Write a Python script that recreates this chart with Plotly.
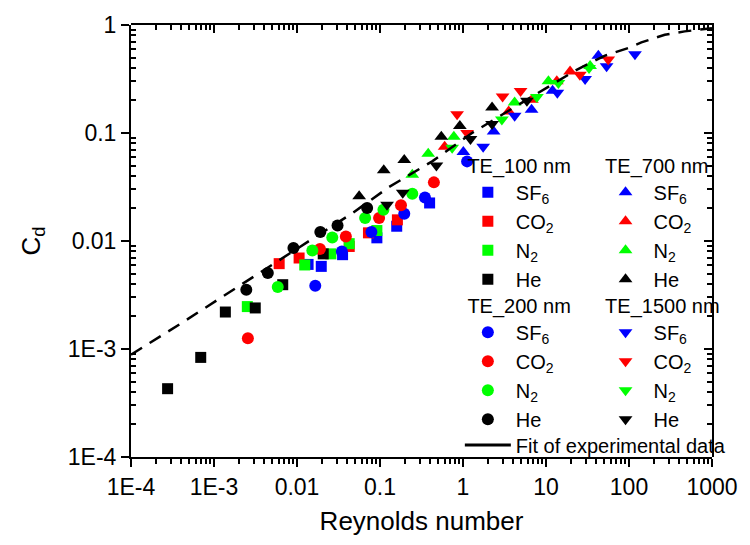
import plotly.graph_objects as go

# ---------------- data ----------------
x_tickvals = [1e-4, 1e-3, 1e-2, 1e-1, 1, 10, 100, 1000]
x_ticktext = ["1E-4", "1E-3", "0.01", "0.1", "1", "10", "100", "1000"]
y_tickvals = [1e-4, 1e-3, 1e-2, 1e-1, 1]
y_ticktext = ["1E-4", "1E-3", "0.01", "0.1", "1"]

# TE_100 nm (squares)
re_100_sf6 = [0.0136, 0.0196, 0.0354, 0.0917, 0.159, 0.396]
cd_100_sf6 = [6.07e-3, 5.82e-3, 7.47e-3, 0.0107, 0.0137, 0.0225]
re_100_co2 = [0.0061, 0.0106, 0.0426, 0.0726, 0.162]
cd_100_co2 = [6.17e-3, 6.96e-3, 8.9e-3, 0.0119, 0.0157]
re_100_n2 = [0.00252, 0.0124, 0.0256, 0.0426, 0.0917]
cd_100_n2 = [0.00247, 0.0060, 0.0076, 0.00945, 0.0125]
re_100_he = [2.76e-4, 6.92e-4, 1.37e-3, 3.14e-3, 6.73e-3, 0.0207]
cd_100_he = [4.29e-4, 8.36e-4, 2.2e-3, 2.4e-3, 3.94e-3, 7.6e-3]

# TE_200 nm (circles)
re_200_sf6 = [0.0166, 0.0347, 0.0788, 0.196, 0.348, 1.12]
cd_200_sf6 = [3.86e-3, 8.0e-3, 0.0121, 0.0179, 0.0253, 0.0546]
re_200_co2 = [0.00256, 0.0189, 0.0388, 0.0975, 0.179, 0.446]
cd_200_co2 = [1.26e-3, 8.43e-3, 0.0110, 0.0163, 0.0214, 0.0349]
re_200_n2 = [0.00586, 0.0153, 0.0266, 0.0662, 0.110, 0.245]
cd_200_n2 = [3.75e-3, 8.18e-3, 0.0108, 0.0163, 0.0195, 0.0274]
re_200_he = [2.45e-3, 4.45e-3, 9.06e-3, 0.0191, 0.0308, 0.070]
cd_200_he = [3.54e-3, 5.06e-3, 8.61e-3, 0.0121, 0.0139, 0.0202]

# TE_700 nm (triangles up)
re_700_sf6 = [1.01, 2.34, 6.70, 12.0, 42.7]
cd_700_sf6 = [0.0667, 0.1035, 0.164, 0.246, 0.520]
re_700_co2 = [0.601, 3.55, 6.76, 13.5, 19.5]
cd_700_co2 = [0.0747, 0.158, 0.203, 0.301, 0.372]
re_700_n2 = [0.245, 0.381, 0.776, 4.19, 10.7, 34.0]
cd_700_n2 = [0.0411, 0.0643, 0.0924, 0.192, 0.301, 0.417]
re_700_he = [0.0561, 0.111, 0.196, 0.548, 0.916, 2.24]
cd_700_he = [0.0259, 0.0453, 0.0562, 0.0924, 0.116, 0.172]

# TE_1500 nm (triangles down)
re_1500_sf6 = [1.75, 4.19, 13.7, 29.6, 53.7, 118]
cd_1500_sf6 = [0.0747, 0.1446, 0.236, 0.316, 0.414, 0.537]
re_1500_co2 = [0.849, 1.12, 3.0, 4.94, 25.6, 56.2]
cd_1500_co2 = [0.149, 0.100, 0.218, 0.245, 0.347, 0.480]
re_1500_n2 = [0.74, 2.94, 7.76, 14.1, 33.0]
cd_1500_n2 = [0.0731, 0.133, 0.216, 0.290, 0.400]
re_1500_he = [0.1216, 0.188, 0.478, 1.23, 2.24, 5.89]
cd_1500_he = [0.0217, 0.028, 0.050, 0.088, 0.121, 0.199]

re_fit = [1e-4, 4.07e-4, 0.0467, 0.1285, 0.4256, 1.285, 4.68, 23.4, 51.4, 97.7, 141, 270, 469, 1000]
cd_fit = [8.86e-4, 1.74e-3, 0.01816, 0.0316, 0.0546, 0.1, 0.183, 0.385, 0.52, 0.612, 0.69, 0.813, 0.873, 0.933]

gases = ["SF<sub>6</sub>", "CO<sub>2</sub>", "N<sub>2</sub>", "He"]
colors = ["#0000FF", "#FF0000", "#00FF00", "#000000"]

groups = [
    ("legend", "square", 11, [(re_100_sf6, cd_100_sf6), (re_100_co2, cd_100_co2), (re_100_n2, cd_100_n2), (re_100_he, cd_100_he)]),
    ("legend3", "circle", 12, [(re_200_sf6, cd_200_sf6), (re_200_co2, cd_200_co2), (re_200_n2, cd_200_n2), (re_200_he, cd_200_he)]),
    ("legend2", "triangle-up", 12, [(re_700_sf6, cd_700_sf6), (re_700_co2, cd_700_co2), (re_700_n2, cd_700_n2), (re_700_he, cd_700_he)]),
    ("legend4", "triangle-down", 12, [(re_1500_sf6, cd_1500_sf6), (re_1500_co2, cd_1500_co2), (re_1500_n2, cd_1500_n2), (re_1500_he, cd_1500_he)]),
]

FONT = "Arial, Liberation Sans, sans-serif"
fig = go.Figure()
for leg, sym, size, series in groups:
    for i, (xs, ys) in enumerate(series):
        fig.add_trace(go.Scatter(
            x=xs, y=ys, mode="markers", name=gases[i],
            marker=dict(symbol=sym, size=size, color=colors[i], line=dict(width=0)),
            legend=leg, legendgroup=leg + str(i),
        ))

# dashed fit curve, drawn on the frame axes (same ranges, same area) so it sits on top
fig.add_trace(go.Scatter(x=re_fit, y=cd_fit, mode="lines", showlegend=False,
                         xaxis="x2", yaxis="y2",
                         line=dict(color="black", width=2.5, dash="13px,9px")))
# legend entry for the fit (solid line as in the original)
fig.add_trace(go.Scatter(x=[None], y=[None], mode="lines", name="Fit of experimental data",
                         line=dict(color="black", width=3), legend="legend5", legendgroup="fit"))

leg_font = dict(family=FONT, size=20, color="black")
def mk_leg(title, x, y, yanchor="top"):
    d = dict(font=leg_font, x=x, y=y,
             xanchor="left", yanchor=yanchor, bgcolor="rgba(0,0,0,0)", borderwidth=0,
             itemwidth=46, tracegroupgap=3, traceorder="normal", itemclick=False)
    if title:
        d["title"] = dict(text=title, font=leg_font)
    return d

fig.update_layout(
    width=750, height=545,
    margin=dict(l=131, r=36, t=25, b=88),
    paper_bgcolor="white", plot_bgcolor="rgba(0,0,0,0)",
    font=dict(family=FONT, color="black"),
    legend=mk_leg("&nbsp;TE_100 nm", 0.566, 0.718),
    legend2=mk_leg("&nbsp;TE_700 nm", 0.803, 0.718),
    legend3=mk_leg("&nbsp;TE_200 nm", 0.566, 0.394),
    legend4=mk_leg("&nbsp;TE_1500 nm", 0.803, 0.394),
    legend5=mk_leg(None, 0.566, 0.028, yanchor="middle"),
)

x_minor = [k * 10.0 ** e for e in range(-4, 3) for k in range(2, 10)]
y_minor = [k * 10.0 ** e for e in range(-4, 0) for k in range(2, 10)]

def axis(rng, vals, text, mvals, side, anchor, ticks, minor_ticks, labels):
    d = dict(type="log", range=rng, side=side, anchor=anchor, domain=[0, 1],
             tickmode="array", tickvals=vals, ticktext=text,
             showline=True, linecolor="black", linewidth=2,
             gridcolor="rgba(0,0,0,0)",
             ticks=ticks, ticklen=8, tickwidth=2, tickcolor="black",
             minor=dict(tickmode="array", tickvals=mvals, ticks=minor_ticks,
                        ticklen=5, tickwidth=1.5, tickcolor="black"),
             showticklabels=labels)
    if labels:
        d["tickfont"] = dict(family=FONT, size=23, color="black")
    return d

fig.update_layout(
    xaxis=dict(**axis([-4, 3], x_tickvals, x_ticktext, x_minor, "bottom", "y", "outside", "outside", True),
               title=dict(text="Reynolds number", font=dict(family=FONT, size=26), standoff=13)),
    yaxis=dict(**axis([-4, 0], y_tickvals, y_ticktext, y_minor, "left", "x", "outside", "inside", True),
               title=dict(text="C<sub>d</sub>", font=dict(family=FONT, size=26), standoff=20)),
    xaxis2=axis([-4, 3], x_tickvals, x_ticktext, x_minor, "top", "y2", "inside", "inside", False),
    yaxis2=axis([-4, 0], y_tickvals, y_ticktext, y_minor, "right", "x2", "inside", "inside", False),
)

fig.write_html("out.html")
